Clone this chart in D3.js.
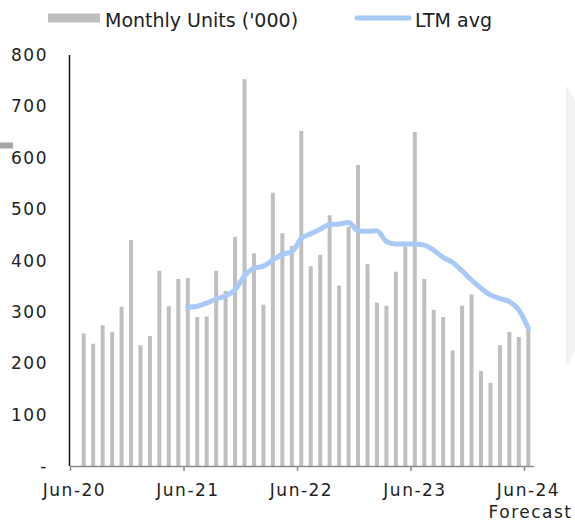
<!DOCTYPE html>
<html>
<head>
<meta charset="utf-8">
<script src="https://cdn.jsdelivr.net/npm/d3@7"></script>
<style>
  html, body { margin: 0; padding: 0; background: #fff; }
  svg { display: block; font-family: "DejaVu Sans", "Noto Sans", sans-serif; }
  .tick-label { font-size: 17px; letter-spacing: 1.5px; fill: #222; }
  .legend-label { font-size: 19px; fill: #222; }
</style>
</head>
<body>
<svg id="chart" width="575" height="522"></svg>
<script>
// monthly units ('000), one bar per month
const units = [258, 238, 274, 261, 310, 440, 235, 253, 380, 311, 364, 366,
  290, 291, 380, 341, 446, 753, 414, 314, 532, 453, 428, 652,
  389, 411, 488, 351, 466, 586, 393, 318, 312, 378, 427, 650,
  364, 304, 290, 225, 312, 334, 185, 162, 235, 261, 251, 265];

// LTM average, starts at the 12th month
const ltm = [null, null, null, null, null, null, null, null, null, null, null,
  309, 311, 317, 325, 331, 343, 370, 385, 389, 401, 412, 417,
  443, 452, 461, 470, 471, 474, 458, 457, 458, 437, 432, 432,
  432, 430, 420, 406, 396, 380, 362, 346, 333, 326, 320, 304, 268];

const xTickMonths = [0, 12, 24, 36, 48];
const xTickLabels = ['Jun-20', 'Jun-21', 'Jun-22', 'Jun-23', 'Jun-24'];
const yTicks = [0, 100, 200, 300, 400, 500, 600, 700, 800];

const svg = d3.select('#chart');

const x = d3.scaleLinear().domain([0, 49]).range([70, 533.5]);
const y = d3.scaleLinear().domain([0, 800]).range([466, 55]);
const barPos = i => x(i + 1.45);

// faint shape on the right edge
svg.append('path')
  .attr('d', 'M566,85L575,100L575,350L566,368Z')
  .attr('fill', '#f3f3f3');

// stray legend swatch at the left
svg.append('rect')
  .attr('x', 0).attr('y', 142.5).attr('width', 13).attr('height', 6)
  .attr('fill', '#a6a6a6');

// bars
svg.append('g')
  .selectAll('rect')
  .data(units)
  .join('rect')
  .attr('x', (d, i) => barPos(i) - 2)
  .attr('width', 4)
  .attr('y', d => y(d))
  .attr('height', d => y(0) - y(d))
  .attr('fill', '#bfbfbf');

// LTM line
const line = d3.line()
  .defined(d => d != null)
  .x((d, i) => barPos(i))
  .y(d => y(d))
  .curve(d3.curveMonotoneX);

svg.append('path')
  .datum(ltm)
  .attr('d', line)
  .attr('fill', 'none')
  .attr('stroke', '#a9c9f6')
  .attr('stroke-width', 5)
  .attr('stroke-linecap', 'round')
  .attr('stroke-linejoin', 'round');

// y axis
svg.append('line')
  .attr('x1', 69.5).attr('x2', 69.5)
  .attr('y1', y(800)).attr('y2', y(0))
  .attr('stroke', '#111').attr('stroke-width', 1.5);

svg.append('g')
  .selectAll('text')
  .data(yTicks)
  .join('text')
  .attr('class', 'tick-label')
  .attr('x', 48)
  .attr('y', d => y(d))
  .attr('dy', '0.36em')
  .attr('text-anchor', 'end')
  .text(d => d === 0 ? '-' : d);

// x axis
const xAxis = d3.axisBottom(x)
  .tickValues(xTickMonths)
  .tickSize(5)
  .tickSizeOuter(0)
  .tickFormat('');

const gx = svg.append('g')
  .attr('transform', `translate(0,${y(0)})`)
  .call(xAxis);
gx.select('.domain').attr('stroke', '#8c8c8c').attr('stroke-width', 1.5);
gx.selectAll('.tick line').attr('stroke', '#8c8c8c').attr('stroke-width', 1.5);

svg.append('g')
  .selectAll('text')
  .data(xTickMonths)
  .join('text')
  .attr('class', 'tick-label')
  .attr('x', d => x(d) + 4.5)
  .attr('y', 496)
  .attr('text-anchor', 'middle')
  .text((d, i) => xTickLabels[i]);

svg.append('text')
  .attr('class', 'tick-label')
  .attr('x', x(48) + 6.5)
  .attr('y', 518)
  .attr('text-anchor', 'middle')
  .text('Forecast');

// legend
const legend = svg.append('g');
legend.append('rect')
  .attr('x', 48).attr('y', 13.5).attr('width', 52).attr('height', 9)
  .attr('fill', '#bfbfbf');
legend.append('text')
  .attr('class', 'legend-label')
  .attr('x', 105).attr('y', 26.7)
  .text("Monthly Units ('000)");
legend.append('line')
  .attr('x1', 357).attr('x2', 409)
  .attr('y1', 18).attr('y2', 18)
  .attr('stroke', '#a9c9f6').attr('stroke-width', 5)
  .attr('stroke-linecap', 'round');
legend.append('text')
  .attr('class', 'legend-label')
  .attr('x', 415).attr('y', 26.7)
  .text('LTM avg');
</script>
</body>
</html>
